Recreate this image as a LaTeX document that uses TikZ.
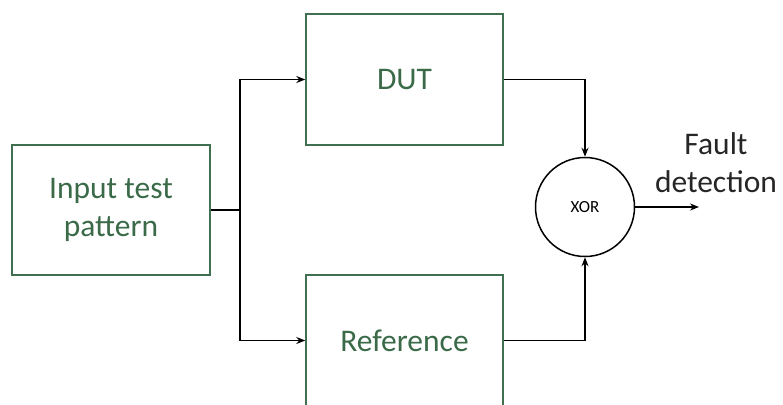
\documentclass[tikz,border=0pt]{standalone}
\usepackage{fontspec}
\setmainfont{Carlito}
\usetikzlibrary{arrows.meta}
\definecolor{boxgreen}{RGB}{64,112,80}
\definecolor{textgreen}{RGB}{58,106,72}
\definecolor{labelgray}{RGB}{38,38,38}
\tikzset{
  block/.style={draw=boxgreen, line width=1.5pt, rectangle, text=textgreen, align=center, font=\fontsize{31.5}{38}\selectfont},
  wire/.style={line width=1.4pt, -{Stealth[length=9pt,width=7pt]}},
}
\begin{document}
\begin{tikzpicture}[x=1pt,y=-1pt]

		\clip (0,0) rectangle (783,404);

		%Blocks
		\node[block, minimum width=198pt, minimum height=130pt] (input) at (111,210) {Input test\\pattern};
		\node[block, minimum width=197pt, minimum height=131pt] (dut) at (404.5,79.5) {DUT};
		\node[block, minimum width=197pt, minimum height=131pt] (ref) at (404.5,340.5) {Reference};

		%XOR gate
		\node[draw, circle, line width=1.5pt, minimum size=99pt, inner sep=0pt, font=\fontsize{17}{20}\selectfont] (xor) at (585,207) {XOR};

		%Output label
		\node[text=labelgray, align=center, font=\fontsize{31.5}{38}\selectfont] (fault) at (716,163) {Fault\\detection};

		%Split point and output end
		\coordinate (split) at (240,210);
		\coordinate (out) at (699,207);

		%Wires
		\draw[line width=1.4pt] (input.east) -- (split);
		\draw[wire] (split) |- (dut.west);
		\draw[wire] (split) |- (ref.west);
		\draw[wire] (dut.east) -| (xor.north);
		\draw[wire] (ref.east) -| (xor.south);
		\draw[wire] (xor.east) -- (out);

	\end{tikzpicture}
\end{document}
